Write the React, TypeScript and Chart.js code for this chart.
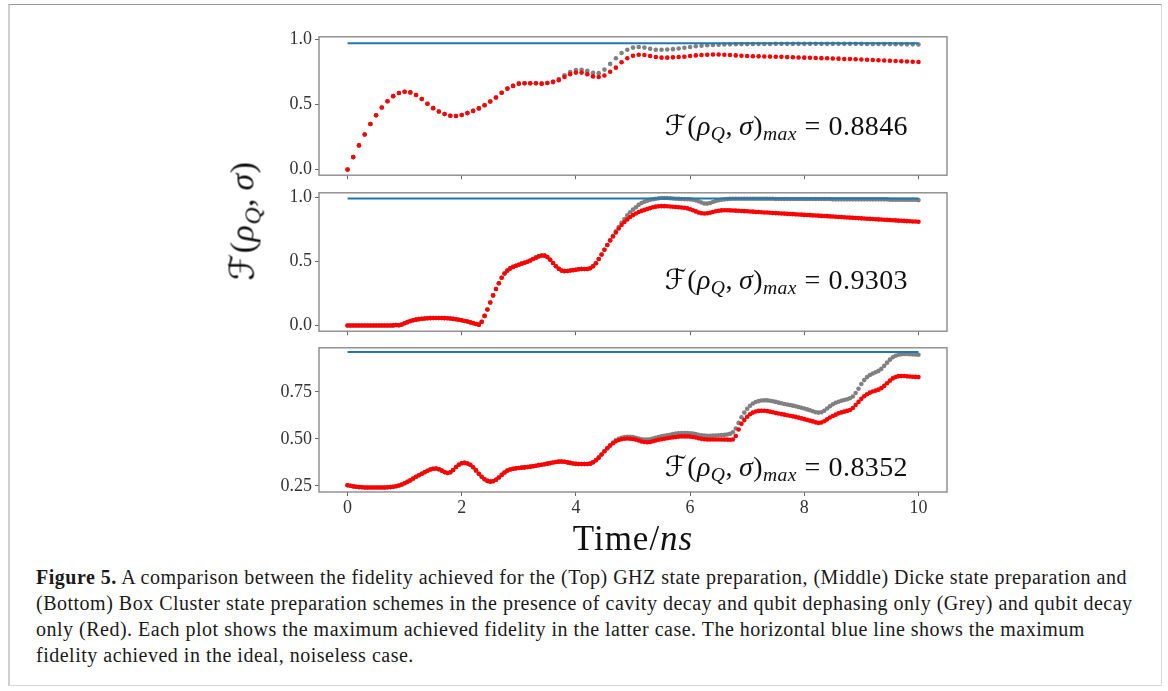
import React, { useEffect, useRef } from "react";
import { Chart, registerables } from "chart.js";

Chart.register(...registerables);

// ---------- data ----------
// sample times (ns): top panel sampled every 0.1 ns, middle/bottom every 0.05 ns
const TIMES_TOP = Array.from({ length: 101 }, (_, i) => +(i * 0.1).toFixed(2));
const TIMES_FINE = Array.from({ length: 201 }, (_, i) => +(i * 0.05).toFixed(2));
const IDEAL_SPAN = [0, 10];

const X_TICKS = [0, 2, 4, 6, 8, 10];
const GHZ_Y_TICKS = [0, 0.5, 1.0];
const DICKE_Y_TICKS = [0, 0.5, 1.0];
const BOX_Y_TICKS = [0.25, 0.5, 0.75];

const GHZ_IDEAL = 0.97;
const DICKE_IDEAL = 0.99;
const BOX_IDEAL = 0.963;

const GHZ_MAX = "0.8846";
const DICKE_MAX = "0.9303";
const BOX_MAX = "0.8352";

// GHZ (top) — qubit decay only (red)
const GHZ_RED = [
  0.000, 0.096, 0.186, 0.270, 0.350, 0.417, 0.477, 0.525, 0.564, 0.588,
  0.598, 0.593, 0.573, 0.542, 0.506, 0.472, 0.446, 0.427, 0.414, 0.412,
  0.419, 0.434, 0.451, 0.470, 0.494, 0.523, 0.554, 0.590, 0.622, 0.643,
  0.660, 0.663, 0.663, 0.663, 0.660, 0.665, 0.672, 0.687, 0.711, 0.733,
  0.745, 0.745, 0.733, 0.716, 0.711, 0.723, 0.752, 0.783, 0.824, 0.855,
  0.875, 0.882, 0.880, 0.872, 0.865, 0.860, 0.860, 0.862, 0.865, 0.867,
  0.872, 0.877, 0.880, 0.882, 0.8846, 0.884, 0.882, 0.880, 0.877, 0.875,
  0.872, 0.871, 0.870, 0.869, 0.868, 0.867, 0.866, 0.864, 0.863, 0.861,
  0.860, 0.859, 0.857, 0.856, 0.855, 0.853, 0.852, 0.850, 0.849, 0.848,
  0.846, 0.844, 0.842, 0.840, 0.838, 0.836, 0.834, 0.832, 0.830, 0.828,
  0.826,
];
// GHZ (top) — cavity decay + qubit dephasing (grey)
const GHZ_GREY = [
  0.000, 0.096, 0.186, 0.270, 0.350, 0.417, 0.477, 0.525, 0.564, 0.588,
  0.598, 0.593, 0.573, 0.542, 0.506, 0.472, 0.446, 0.427, 0.414, 0.412,
  0.419, 0.434, 0.451, 0.470, 0.494, 0.523, 0.554, 0.590, 0.622, 0.643,
  0.660, 0.663, 0.663, 0.663, 0.660, 0.665, 0.676, 0.695, 0.724, 0.750,
  0.765, 0.767, 0.758, 0.743, 0.741, 0.768, 0.812, 0.855, 0.896, 0.920,
  0.937, 0.942, 0.937, 0.928, 0.920, 0.920, 0.923, 0.925, 0.930, 0.936,
  0.942, 0.947, 0.952, 0.955, 0.957, 0.959, 0.961, 0.962, 0.963, 0.964,
  0.964, 0.965, 0.965, 0.965, 0.965, 0.966, 0.966, 0.966, 0.966, 0.966,
  0.966, 0.966, 0.966, 0.966, 0.966, 0.966, 0.966, 0.966, 0.966, 0.966,
  0.966, 0.965, 0.965, 0.965, 0.964, 0.964, 0.963, 0.963, 0.962, 0.962,
  0.961,
];

// Dicke (middle) — red
const DICKE_RED = [
  0.000, 0.000, 0.000, 0.000, 0.000, 0.000, 0.000, 0.000, 0.000, 0.000, 0.000, 0.000, 0.000, 0.000, 0.000, 0.000, 0.001, 0.004, 0.002, 0.008,
  0.018, 0.027, 0.035, 0.041, 0.046, 0.050, 0.053, 0.055, 0.057, 0.058, 0.059, 0.059, 0.059, 0.059, 0.058, 0.057, 0.055, 0.052, 0.049, 0.045,
  0.041, 0.036, 0.031, 0.025, 0.019, 0.012, 0.007, 0.030, 0.075, 0.125, 0.180, 0.235, 0.285, 0.330, 0.372, 0.405, 0.428, 0.445, 0.457, 0.466,
  0.474, 0.482, 0.489, 0.497, 0.507, 0.518, 0.529, 0.539, 0.546, 0.545, 0.533, 0.513, 0.487, 0.462, 0.442, 0.428, 0.424, 0.425, 0.429, 0.432,
  0.435, 0.438, 0.440, 0.441, 0.441, 0.446, 0.462, 0.485, 0.518, 0.553, 0.590, 0.627, 0.662, 0.694, 0.725, 0.756, 0.783, 0.806, 0.827, 0.845,
  0.860, 0.873, 0.884, 0.893, 0.901, 0.908, 0.915, 0.921, 0.926, 0.929, 0.9303, 0.930, 0.929, 0.927, 0.925, 0.923, 0.922, 0.920, 0.917, 0.913,
  0.906, 0.898, 0.889, 0.881, 0.875, 0.873, 0.875, 0.879, 0.885, 0.890, 0.894, 0.897, 0.898, 0.898, 0.897, 0.896, 0.895, 0.894, 0.892, 0.891,
  0.890, 0.888, 0.887, 0.885, 0.884, 0.883, 0.881, 0.880, 0.879, 0.877, 0.876, 0.875, 0.873, 0.872, 0.870, 0.869, 0.868, 0.866, 0.865, 0.864,
  0.862, 0.861, 0.860, 0.858, 0.857, 0.856, 0.854, 0.853, 0.852, 0.850, 0.849, 0.847, 0.846, 0.845, 0.843, 0.842, 0.841, 0.839, 0.838, 0.837,
  0.835, 0.834, 0.832, 0.831, 0.830, 0.828, 0.827, 0.826, 0.824, 0.823, 0.822, 0.820, 0.819, 0.817, 0.816, 0.815, 0.813, 0.812, 0.811, 0.810,
  0.809,
];
// Dicke (middle) — grey
const DICKE_GREY = [
  0.000, 0.000, 0.000, 0.000, 0.000, 0.000, 0.000, 0.000, 0.000, 0.000, 0.000, 0.000, 0.000, 0.000, 0.000, 0.000, 0.001, 0.004, 0.002, 0.008,
  0.018, 0.027, 0.035, 0.041, 0.046, 0.050, 0.053, 0.055, 0.057, 0.058, 0.059, 0.059, 0.059, 0.059, 0.058, 0.057, 0.055, 0.052, 0.049, 0.045,
  0.041, 0.036, 0.031, 0.025, 0.019, 0.012, 0.007, 0.030, 0.075, 0.125, 0.180, 0.235, 0.285, 0.330, 0.372, 0.405, 0.428, 0.445, 0.457, 0.466,
  0.474, 0.482, 0.489, 0.497, 0.507, 0.518, 0.529, 0.539, 0.546, 0.545, 0.533, 0.513, 0.487, 0.462, 0.442, 0.428, 0.424, 0.425, 0.429, 0.432,
  0.435, 0.438, 0.440, 0.441, 0.441, 0.446, 0.462, 0.485, 0.518, 0.553, 0.590, 0.627, 0.665, 0.700, 0.735, 0.768, 0.800, 0.830, 0.858, 0.882,
  0.903, 0.922, 0.940, 0.954, 0.965, 0.973, 0.979, 0.984, 0.988, 0.991, 0.993, 0.993, 0.993, 0.992, 0.990, 0.988, 0.987, 0.986, 0.985, 0.984,
  0.983, 0.980, 0.975, 0.968, 0.958, 0.951, 0.950, 0.954, 0.962, 0.970, 0.976, 0.980, 0.983, 0.985, 0.987, 0.988, 0.988, 0.988, 0.988, 0.988,
  0.988, 0.988, 0.988, 0.988, 0.988, 0.988, 0.988, 0.988, 0.988, 0.988, 0.986, 0.986, 0.986, 0.986, 0.986, 0.986, 0.986, 0.986, 0.986, 0.986,
  0.986, 0.986, 0.986, 0.986, 0.986, 0.986, 0.986, 0.986, 0.986, 0.986, 0.983, 0.983, 0.983, 0.983, 0.983, 0.983, 0.983, 0.983, 0.983, 0.983,
  0.983, 0.983, 0.983, 0.983, 0.983, 0.983, 0.983, 0.983, 0.983, 0.983, 0.980, 0.980, 0.980, 0.980, 0.980, 0.980, 0.980, 0.980, 0.980, 0.980,
  0.977,
];

// Box cluster (bottom) — red
const BOX_RED = [
  0.253, 0.250, 0.247, 0.245, 0.243, 0.242, 0.241, 0.241, 0.241, 0.241, 0.241, 0.241, 0.241, 0.241, 0.242, 0.243, 0.245, 0.248, 0.252, 0.257,
  0.264, 0.271, 0.279, 0.289, 0.298, 0.306, 0.314, 0.322, 0.330, 0.337, 0.341, 0.342, 0.338, 0.331, 0.323, 0.318, 0.322, 0.334, 0.350, 0.362,
  0.370, 0.372, 0.369, 0.362, 0.349, 0.332, 0.314, 0.298, 0.285, 0.276, 0.272, 0.274, 0.282, 0.294, 0.308, 0.321, 0.331, 0.337, 0.341, 0.343,
  0.345, 0.347, 0.348, 0.350, 0.352, 0.354, 0.357, 0.360, 0.362, 0.365, 0.368, 0.371, 0.374, 0.377, 0.379, 0.379, 0.378, 0.375, 0.372, 0.369,
  0.367, 0.366, 0.366, 0.366, 0.366, 0.368, 0.375, 0.386, 0.400, 0.417, 0.434, 0.450, 0.464, 0.477, 0.487, 0.494, 0.498, 0.501, 0.502, 0.501,
  0.499, 0.496, 0.491, 0.486, 0.483, 0.482, 0.483, 0.487, 0.491, 0.495, 0.498, 0.501, 0.503, 0.506, 0.508, 0.510, 0.512, 0.513, 0.513, 0.513,
  0.512, 0.510, 0.507, 0.503, 0.500, 0.498, 0.497, 0.497, 0.497, 0.497, 0.497, 0.497, 0.496, 0.496, 0.495, 0.497, 0.515, 0.550, 0.580, 0.600,
  0.618, 0.631, 0.640, 0.646, 0.649, 0.650, 0.650, 0.648, 0.645, 0.642, 0.638, 0.635, 0.632, 0.629, 0.626, 0.623, 0.620, 0.617, 0.613, 0.609,
  0.605, 0.601, 0.597, 0.593, 0.588, 0.585, 0.587, 0.594, 0.604, 0.614, 0.622, 0.629, 0.636, 0.641, 0.645, 0.649, 0.654, 0.664, 0.680, 0.697,
  0.713, 0.727, 0.738, 0.746, 0.752, 0.757, 0.762, 0.770, 0.782, 0.796, 0.810, 0.822, 0.829, 0.834, 0.8352, 0.835, 0.833, 0.832, 0.831, 0.830,
  0.829,
];
// Box cluster (bottom) — grey
const BOX_GREY = [
  0.253, 0.250, 0.247, 0.245, 0.243, 0.242, 0.241, 0.241, 0.241, 0.241, 0.241, 0.241, 0.241, 0.241, 0.242, 0.243, 0.245, 0.248, 0.252, 0.257,
  0.264, 0.271, 0.279, 0.289, 0.298, 0.306, 0.314, 0.322, 0.330, 0.337, 0.341, 0.342, 0.338, 0.331, 0.323, 0.318, 0.322, 0.334, 0.350, 0.362,
  0.370, 0.372, 0.369, 0.362, 0.349, 0.332, 0.314, 0.298, 0.285, 0.276, 0.272, 0.274, 0.282, 0.294, 0.308, 0.321, 0.331, 0.337, 0.341, 0.343,
  0.345, 0.347, 0.348, 0.350, 0.352, 0.354, 0.357, 0.360, 0.362, 0.365, 0.368, 0.371, 0.374, 0.377, 0.379, 0.379, 0.378, 0.375, 0.372, 0.369,
  0.367, 0.366, 0.366, 0.366, 0.366, 0.368, 0.375, 0.386, 0.400, 0.417, 0.434, 0.450, 0.466, 0.481, 0.493, 0.501, 0.506, 0.509, 0.511, 0.511,
  0.509, 0.506, 0.502, 0.498, 0.496, 0.496, 0.498, 0.502, 0.506, 0.510, 0.513, 0.516, 0.519, 0.522, 0.525, 0.528, 0.530, 0.531, 0.531, 0.531,
  0.530, 0.528, 0.525, 0.522, 0.519, 0.517, 0.516, 0.516, 0.517, 0.518, 0.519, 0.520, 0.521, 0.523, 0.527, 0.535, 0.555, 0.585, 0.615, 0.640,
  0.660, 0.676, 0.688, 0.696, 0.701, 0.704, 0.705, 0.705, 0.703, 0.700, 0.697, 0.693, 0.690, 0.686, 0.683, 0.680, 0.677, 0.674, 0.670, 0.666,
  0.662, 0.657, 0.652, 0.647, 0.642, 0.640, 0.642, 0.650, 0.662, 0.674, 0.684, 0.692, 0.698, 0.703, 0.707, 0.711, 0.716, 0.726, 0.744, 0.767,
  0.792, 0.813, 0.829, 0.840, 0.848, 0.855, 0.862, 0.873, 0.889, 0.906, 0.922, 0.935, 0.943, 0.948, 0.951, 0.952, 0.952, 0.951, 0.950, 0.949,
  0.948,
];

const CAPTION_BOLD = "Figure 5.";
const CAPTION_LINES = [
  " A comparison between the fidelity achieved for the (Top) GHZ state preparation, (Middle) Dicke state preparation and",
  "(Bottom) Box Cluster state preparation schemes in the presence of cavity decay and qubit dephasing only (Grey) and qubit decay",
  "only (Red). Each plot shows the maximum achieved fidelity in the latter case. The horizontal blue line shows the maximum",
  "fidelity achieved in the ideal, noiseless case.",
];

// ---------- styling ----------
const SERIF = "'Liberation Serif', 'Times New Roman', serif";
const SCRIPT = "'DejaVu Serif', 'DejaVu Sans', serif";
const W = 1168;
const PLOT_LEFT = 319;
const PLOT_RIGHT = 947;
const RED = "#ff0000";
const GREY = "#808080";
const BLUE = "#1f77b4";
const FRAME = "#8a8a8a";

const framePlugin = {
  id: "frame",
  afterDatasetsDraw(chart: any) {
    const { ctx, chartArea: a } = chart;
    ctx.save();
    ctx.strokeStyle = FRAME;
    ctx.lineWidth = 1.4;
    ctx.strokeRect(a.left, a.top, a.right - a.left, a.bottom - a.top);
    ctx.restore();
  },
};

type PanelProps = {
  canvasTop: number;
  padTop: number;
  plotHeight: number;
  xAxisH: number;
  yMin: number;
  yMax: number;
  yTicks: number[];
  yDecimals: number;
  showXLabels: boolean;
  times: number[];
  red: number[];
  grey: number[];
  ideal: number;
};

function Panel(p: PanelProps) {
  const ref = useRef<HTMLCanvasElement | null>(null);
  const height = p.padTop + p.plotHeight + p.xAxisH;
  useEffect(() => {
    const tickFont = { family: SERIF, size: 18 };
    const chart = new Chart(ref.current as HTMLCanvasElement, {
      type: "scatter",
      data: {
        datasets: [
          {
            label: "qubit decay",
            data: p.times.map((t, i) => ({ x: t, y: p.red[i] })),
            pointRadius: 2.3,
            pointBackgroundColor: RED,
            pointBorderWidth: 0,
            showLine: false,
            order: 0,
          },
          {
            label: "ideal",
            data: IDEAL_SPAN.map((t) => ({ x: t, y: p.ideal })),
            showLine: true,
            borderColor: BLUE,
            borderWidth: 2,
            pointRadius: 0,
            order: 1,
          },
          {
            label: "cavity decay + dephasing",
            data: p.times.map((t, i) => ({ x: t, y: p.grey[i] })),
            pointRadius: 2.3,
            pointBackgroundColor: GREY,
            pointBorderWidth: 0,
            showLine: false,
            order: 2,
          },
        ],
      } as any,
      options: {
        responsive: false,
        animation: false,
        events: [],
        layout: { padding: { left: 0, right: W - PLOT_RIGHT, top: p.padTop, bottom: 0 } },
        plugins: { legend: { display: false }, tooltip: { enabled: false } },
        scales: {
          x: {
            type: "linear",
            min: -0.5,
            max: 10.5,
            bounds: "data",
            afterBuildTicks: (s: any) => {
              s.ticks = X_TICKS.map((v) => ({ value: v }));
            },
            afterFit: (s: any) => {
              s.height = p.xAxisH;
            },
            grid: { display: true, drawOnChartArea: false, drawTicks: true, tickLength: 4, color: "#666", lineWidth: 1 },
            border: { display: false },
            ticks: {
              display: p.showXLabels,
              autoSkip: false,
              maxRotation: 0,
              minRotation: 0,
              padding: 1,
              color: "#333",
              font: tickFont,
              callback: (v: any) => String(v),
            },
          },
          y: {
            type: "linear",
            min: p.yMin,
            max: p.yMax,
            bounds: "data",
            afterBuildTicks: (s: any) => {
              s.ticks = p.yTicks.map((v) => ({ value: v }));
            },
            afterFit: (s: any) => {
              s.width = PLOT_LEFT;
            },
            grid: { display: true, drawOnChartArea: false, drawTicks: true, tickLength: 4, color: "#666", lineWidth: 1 },
            border: { display: false },
            ticks: {
              padding: 3,
              color: "#333",
              font: tickFont,
              callback: (v: any) => Number(v).toFixed(p.yDecimals),
            },
          },
        },
      } as any,
      plugins: [framePlugin],
    });
    return () => chart.destroy();
  }, []);
  return (
    <canvas
      ref={ref}
      width={W}
      height={height}
      style={{ position: "absolute", left: 0, top: p.canvasTop, width: W, height }}
    />
  );
}

function FidelityMath({ value }: { value?: string }) {
  const it: React.CSSProperties = { fontStyle: "italic" };
  const sub: React.CSSProperties = { fontStyle: "italic", fontSize: "0.7em", position: "relative", top: "0.3em" };
  return (
    <span>
      <span style={{ fontFamily: SCRIPT }}>ℱ</span>(<span style={it}>ρ</span><span style={sub}>Q</span>,<span style={{ marginLeft: "0.22em" }} /><span style={it}>σ</span>)
      {value !== undefined ? (
        <>
          <span style={sub}>max</span>
          <span style={{ margin: "0 0.28em" }}>=</span>
          {value}
        </>
      ) : null}
    </span>
  );
}

function Annotation({ baseline, value }: { baseline: number; value: string }) {
  const fs = 28;
  return (
    <div
      style={{
        position: "absolute",
        right: W - 908,
        top: baseline - 0.8375 * fs,
        fontFamily: SERIF,
        fontSize: fs,
        lineHeight: 1,
        letterSpacing: "0.4px",
        whiteSpace: "nowrap",
        color: "#111",
      }}
    >
      <FidelityMath value={value} />
    </div>
  );
}

export default function App() {
  return (
    <div style={{ position: "absolute", left: 0, top: 0, width: W, height: 691, background: "#fff", overflow: "hidden" }}>
      <div
        style={{
          position: "absolute",
          left: 8,
          top: 4,
          width: 1151,
          height: 680,
          borderTop: "1px solid #9a9a9a",
          borderLeft: "2px solid #cfcfcf",
          borderRight: "1px solid #d8d8d8",
          borderBottom: "1px solid #d8d8d8",
        }}
      />
      <Panel canvasTop={23} padTop={10} plotHeight={148} xAxisH={8} yMin={-0.043} yMax={1.02} yTicks={GHZ_Y_TICKS} yDecimals={1} showXLabels={false} times={TIMES_TOP} red={GHZ_RED} grey={GHZ_GREY} ideal={GHZ_IDEAL} />
      <Panel canvasTop={179} padTop={10} plotHeight={148} xAxisH={8} yMin={-0.044} yMax={1.034} yTicks={DICKE_Y_TICKS} yDecimals={1} showXLabels={false} times={TIMES_FINE} red={DICKE_RED} grey={DICKE_GREY} ideal={DICKE_IDEAL} />
      <Panel canvasTop={334} padTop={10} plotHeight={148} xAxisH={32} yMin={0.217} yMax={0.985} yTicks={BOX_Y_TICKS} yDecimals={2} showXLabels={true} times={TIMES_FINE} red={BOX_RED} grey={BOX_GREY} ideal={BOX_IDEAL} />

      <Annotation baseline={135} value={GHZ_MAX} />
      <Annotation baseline={289} value={DICKE_MAX} />
      <Annotation baseline={476} value={BOX_MAX} />

      <div
        style={{
          position: "absolute",
          left: 242,
          top: 221,
          transform: "translate(-50%, -50%) rotate(-90deg)",
          fontFamily: SERIF,
          fontSize: 34,
          lineHeight: 1,
          letterSpacing: "0.5px",
          whiteSpace: "nowrap",
          color: "#111",
        }}
      >
        <FidelityMath />
      </div>

      <div
        style={{
          position: "absolute",
          left: 633,
          top: 550 - 0.8375 * 35,
          transform: "translateX(-50%)",
          fontFamily: SERIF,
          fontSize: 35,
          lineHeight: 1,
          letterSpacing: "1px",
          whiteSpace: "nowrap",
          color: "#111",
        }}
      >
        Time/<span style={{ fontStyle: "italic" }}>ns</span>
      </div>

      <div
        style={{
          position: "absolute",
          left: 36,
          top: 564,
          fontFamily: SERIF,
          fontSize: 20,
          lineHeight: "26px",
          letterSpacing: "0.5px",
          color: "#1a1a1a",
          whiteSpace: "nowrap",
        }}
      >
        {CAPTION_LINES.map((line, i) => (
          <div key={i}>
            {i === 0 ? <b>{CAPTION_BOLD}</b> : null}
            {line}
          </div>
        ))}
      </div>
    </div>
  );
}
